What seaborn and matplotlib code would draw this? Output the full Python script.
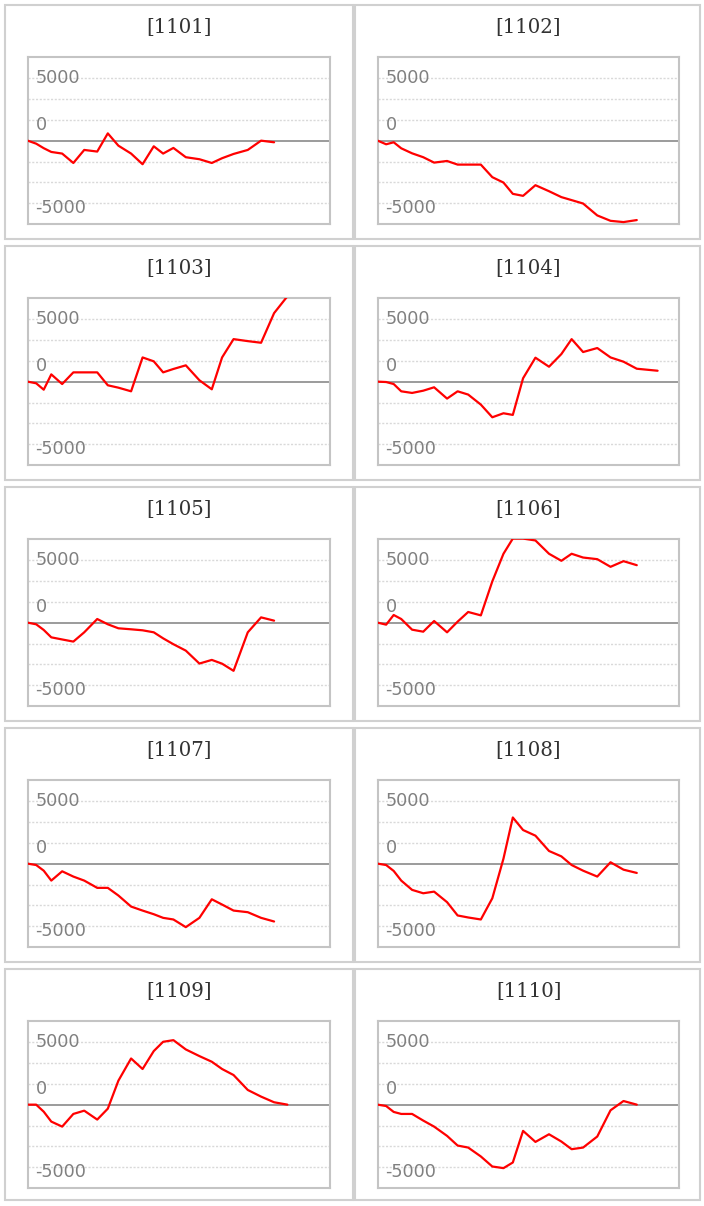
import pandas as pd
import seaborn as sns
import matplotlib.pyplot as plt
from matplotlib.patches import Rectangle

# shared time axis (units of the x range 0..100)
t = [0, 2.8, 5.3, 7.8, 11.4, 15.1, 18.7, 23.0, 26.5, 30.0, 34.2, 38.0, 41.7,
     44.8, 48.2, 52.3, 56.8, 60.9, 64.3, 68.1, 72.8, 77.2, 81.5, 85.9, 92.8]

codes = ['1101', '1102', '1103', '1104', '1105',
         '1106', '1107', '1108', '1109', '1110']

v1101 = [0, -240, -600, -900, -1030, -1780, -740, -870, 580, -400, -1030, -1880,
         -450, -1030, -580, -1320, -1480, -1780, -1400, -1060, -740, 0, -130]
v1102 = [0, -290, -130, -610, -1010, -1320, -1750, -1620, -1910, -1910, -1910,
         -2910, -3340, -4240, -4400, -3550, -4030, -4500, -4740, -5010, -5960,
         -6390, -6490, -6330]
v1103 = [0, -130, -640, 580, -190, 740, 740, 740, -290, -480, -770, 1930, 1620,
         740, 1010, 1300, 110, -610, 1930, 3390, 3230, 3100, 5460, 6800]
v1104 = [0, -30, -190, -770, -900, -720, -450, -1350, -770, -1030, -1830, -2840,
         -2520, -2650, 270, 1910, 1190, 2200, 3390, 2360, 2680, 1930, 1590, 1030, 870]
v1105 = [0, -130, -580, -1170, -1340, -1510, -770, 290, -130, -450, -530, -610,
         -770, -1250, -1720, -2230, -3260, -2970, -3270, -3840, -770, 420, 160]
v1106 = [0, -160, 610, 290, -560, -720, 130, -770, 80, 850, 580, 3290, 5490,
         6700, 6700, 6550, 5490, 4930, 5490, 5190, 5060, 4450, 4900, 4580]
v1107 = [0, -110, -560, -1350, -610, -1030, -1350, -1930, -1930, -2540, -3420,
         -3740, -4030, -4320, -4450, -5060, -4320, -2840, -3260, -3740, -3870,
         -4320, -4610]
v1108 = [0, -110, -580, -1350, -2090, -2360, -2230, -3070, -4130, -4290, -4450,
         -2760, 400, 3680, 2680, 2230, 1010, 580, -110, -560, -1030, 110, -480, -740]
v1109 = [0, 0, -560, -1350, -1750, -740, -480, -1190, -320, 1910, 3680, 2840,
         4270, 5010, 5140, 4400, 3870, 3420, 2840, 2360, 1170, 640, 190, 0]
v1110 = [0, -110, -580, -740, -740, -1270, -1750, -2490, -3260, -3420, -4130,
         -4930, -5060, -4610, -2090, -2970, -2360, -2940, -3550, -3420, -2540,
         -450, 290, 0]

series = [v1101, v1102, v1103, v1104, v1105, v1106, v1107, v1108, v1109, v1110]

# long table for seaborn
rows = []
for code, vals in zip(codes, series):
    for x, v in zip(t, vals):
        rows.append({'code': code, 't': x, 'value': v})
df = pd.DataFrame(rows)

tick_labels = ['5000', '0', '-5000']
label_pos = [4600, 870, -5800]        # baseline positions of the in-plot labels
grid_vals = [-5000, -3333.3, -1666.7, 1666.7, 3333.3, 5000]

sns.set_style('white')
plt.rcParams['font.family'] = ['DejaVu Sans']

W, H = 704, 1206
fig = plt.figure(figsize=(W / 100, H / 100), dpi=100)

ax_left = [27.7, 377.7]
ax_right = [330.0, 679.3]
box_left = [5, 355]
box_right = [353, 700.3]

for i, code in enumerate(codes):
    r, c = divmod(i, 2)
    top = 57 + 241 * r
    bottom = 224.3 + 241 * r

    # outer panel box
    y0 = 5.2 + 241 * r
    y1 = 1200.3 if r == 4 else 239 + 241 * r
    fig.add_artist(Rectangle((box_left[c] / W, 1 - y1 / H),
                             (box_right[c] - box_left[c]) / W, (y1 - y0) / H,
                             transform=fig.transFigure, fill=False,
                             edgecolor='#d0d0d0', linewidth=1.5))

    ax = fig.add_axes([ax_left[c] / W, 1 - bottom / H,
                       (ax_right[c] - ax_left[c]) / W, (bottom - top) / H])

    ax.set_yticks(grid_vals)
    ax.grid(axis='y', color='#d9d9d9', linestyle=(0, (1.5, 1.2)), linewidth=1.0)
    ax.axhline(0, color='#808080', linewidth=1.1, zorder=2)

    sns.lineplot(data=df[df['code'] == code], x='t', y='value',
                 color='#ff0000', linewidth=1.6, ax=ax, zorder=3)

    ax.set_xlim(0, 100)
    ax.set_ylim(-6667, 6667)
    ax.set_xlabel('')
    ax.set_ylabel('')
    ax.tick_params(length=0, labelleft=False, labelbottom=False)
    for s in ax.spines.values():
        s.set_color('#c4c4c4')
        s.set_linewidth(1.5)

    for lab, y in zip(tick_labels, label_pos):
        ax.text(0.026, y, lab, transform=ax.get_yaxis_transform(),
                ha='left', va='baseline', color='#808080', fontsize=12.7)

    fig.text((ax_left[c] + ax_right[c]) / 2 / W, 1 - (top - 29.5) / H,
             '[' + code + ']', ha='center', va='center', color='#333333',
             fontsize=14.2, family=['DejaVu Serif'])

fig.savefig('out.png', dpi=100)
